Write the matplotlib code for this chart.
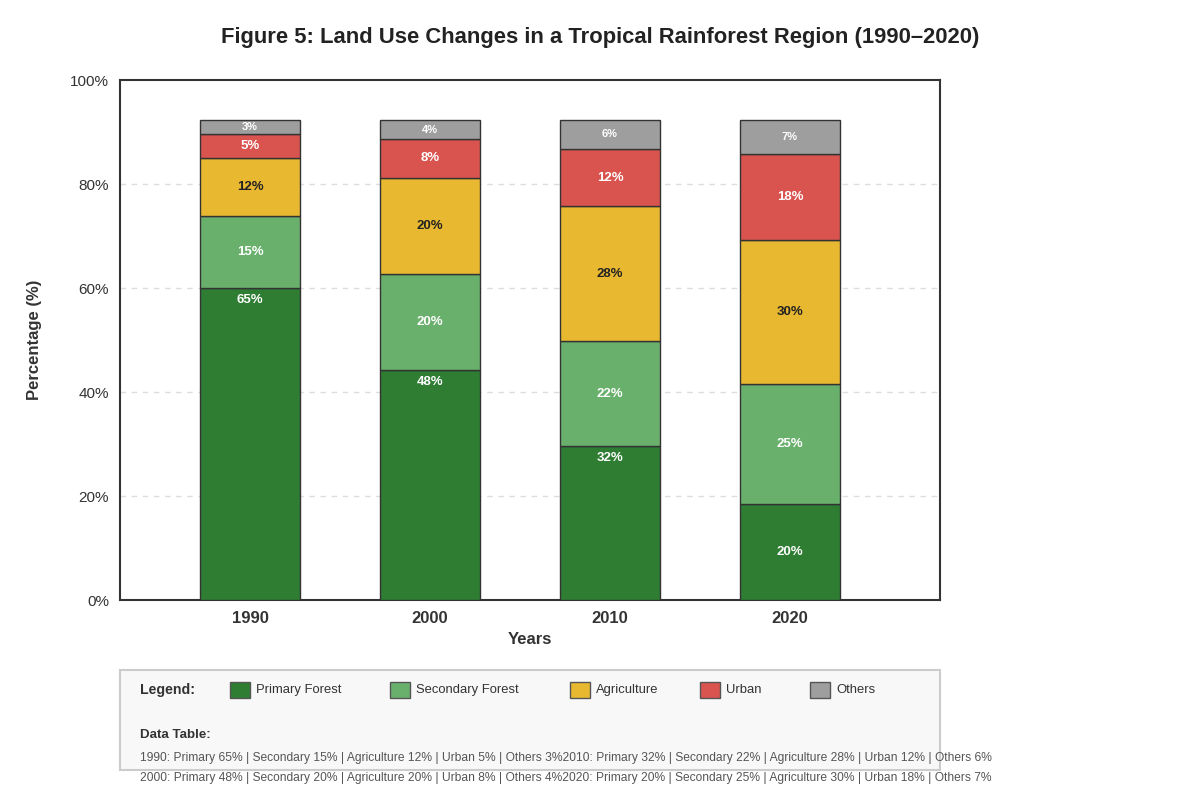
import matplotlib
matplotlib.use("Agg")
import matplotlib.pyplot as plt
from matplotlib.patches import Rectangle
import numpy as np

plt.rcParams['font.family'] = ['Liberation Sans', 'DejaVu Sans']

years = ["1990", "2000", "2010", "2020"]
categories = ["Primary Forest", "Secondary Forest", "Agriculture", "Urban", "Others"]
short_names = ["Primary", "Secondary", "Agriculture", "Urban", "Others"]
primary = [65, 48, 32, 20]
secondary = [15, 20, 22, 25]
agriculture = [12, 20, 28, 30]
urban = [5, 8, 12, 18]
others = [3, 4, 6, 7]
series = [primary, secondary, agriculture, urban, others]
colors = ["#2e7d32", "#6ab06d", "#e8b830", "#d9534f", "#9e9e9e"]
label_colors = ["white", "white", "#222222", "white", "white"]
ytick_labels = ["0%", "20%", "40%", "60%", "80%", "100%"]

fig = plt.figure(figsize=(12, 8), dpi=100)
ax = fig.add_axes([120/1200, 1 - 600/800, 820/1200, 520/800])

x = np.arange(len(years))
width = 100/180
ymax = 100 * 520/480
bottom = np.zeros(len(years))
for si, vals in enumerate(series):
    vals = np.array(vals, dtype=float)
    ax.bar(x, vals, width, bottom=bottom, color=colors[si], edgecolor="#333333",
           linewidth=1, zorder=3)
    for i, v in enumerate(vals):
        if si == 0 and v > 30:
            ypos = bottom[i] + v - 2.5
        else:
            ypos = bottom[i] + v / 2
        fs = 8 if si == 4 else 9.5
        ax.text(x[i], ypos, f"{int(v)}%", ha="center", va="center", color=label_colors[si],
                fontsize=fs, fontweight="bold", zorder=4)
    bottom += vals

ax.set_xlim(-130/180, 3 + 150/180)
ax.set_ylim(0, ymax)
yt = np.linspace(0, ymax, 6)
ax.set_yticks(yt)
ax.set_yticklabels(ytick_labels, fontsize=11, color="#333333")
for yy in yt[1:-1]:
    ax.axhline(yy, color="#dddddd", linestyle=(0, (4, 4)), linewidth=1, zorder=1)
ax.set_xticks(x)
ax.set_xticklabels(years, fontsize=12, fontweight="bold", color="#333333")
ax.tick_params(axis="both", length=0, pad=8)
for s in ax.spines.values():
    s.set_color("#333333")
    s.set_linewidth(1.5)
ax.set_xlabel("Years", fontsize=12, fontweight="bold", color="#333333", labelpad=4)
ax.set_ylabel("Percentage (%)", fontsize=12, fontweight="bold", color="#333333", labelpad=20)

fig.text(0.5, 1 - 37/800, "Figure 5: Land Use Changes in a Tropical Rainforest Region (1990–2020)",
         ha="center", va="center", fontsize=15.8, fontweight="bold", color="#222222")

# Legend / data table box
fig.patches.append(Rectangle((120/1200, 1 - 770/800), 820/1200, 100/800, transform=fig.transFigure,
                             facecolor="#f8f8f8", edgecolor="#cccccc", linewidth=1.5, zorder=0))
fig.text(140/1200, 1 - 690/800, "Legend:", ha="left", va="center", fontsize=10.2,
         fontweight="bold", color="#333333")
leg_x = [230, 390, 570, 700, 810]
for cx, name, col in zip(leg_x, categories, colors):
    fig.patches.append(Rectangle((cx/1200, 1 - 698/800), 20/1200, 16/800, transform=fig.transFigure,
                                 facecolor=col, edgecolor="#555555", linewidth=1, zorder=1))
    fig.text((cx + 26)/1200, 1 - 690/800, name, ha="left", va="center", fontsize=9.4, color="#333333")

fig.text(140/1200, 1 - 735/800, "Data Table:", ha="left", va="center", fontsize=9.6,
         fontweight="bold", color="#333333")

def row(i):
    return f"{years[i]}: " + " | ".join(f"{short_names[k]} {series[k][i]}%" for k in range(len(series)))

line1 = row(0) + row(2)
line2 = row(1) + row(3)
fig.text(140/1200, 1 - 758/800, line1, ha="left", va="center", fontsize=8.65, color="#555555")
fig.text(140/1200, 1 - 778/800, line2, ha="left", va="center", fontsize=8.65, color="#555555")

fig.savefig("out.png", dpi=100, facecolor="white")
